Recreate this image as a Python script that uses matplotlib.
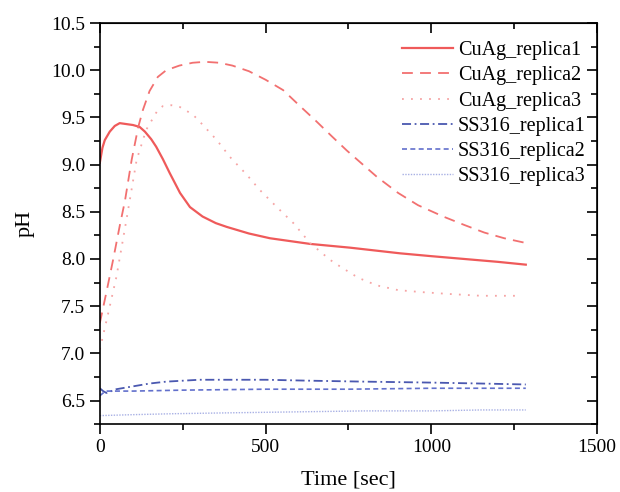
#!/usr/bin/env python3

"""pH over time for CuAg and SS316 replicas."""

import matplotlib.pyplot as plt
from matplotlib.ticker import MultipleLocator

plt.rcParams['font.family'] = ['Liberation Serif', 'DejaVu Serif']

# CuAg replicas
t_cu1 = [0, 8, 15, 30, 45, 60, 80, 100, 120, 136, 155, 170, 190, 211, 242, 272, 310, 350,
         383, 450, 513, 634, 755, 906, 1000, 1100, 1200, 1285]
ph_cu1 = [9.02, 9.18, 9.26, 9.35, 9.41, 9.44, 9.43, 9.42, 9.4, 9.35, 9.27, 9.19, 9.06, 8.91,
          8.7, 8.55, 8.45, 8.38, 8.34, 8.27, 8.22, 8.16, 8.12, 8.06, 8.03, 8.0, 7.97, 7.94]

t_cu2 = [0, 20, 40, 60, 76, 96, 116, 130, 150, 175, 200, 240, 280, 317, 360, 400, 450,
         500, 553, 604, 650, 700, 745, 836, 900, 960, 1036, 1100, 1160, 1220, 1285]
ph_cu2 = [7.32, 7.65, 7.99, 8.35, 8.62, 9.05, 9.4, 9.58, 9.78, 9.93, 10.0, 10.05, 10.08,
          10.09, 10.08, 10.05, 9.99, 9.9, 9.79, 9.62, 9.47, 9.3, 9.15, 8.87, 8.7, 8.57,
          8.45, 8.36, 8.28, 8.22, 8.17]

t_cu3 = [0, 25, 50, 80, 111, 140, 175, 190, 216, 242, 281, 311, 353, 393, 444, 483, 534,
         584, 634, 695, 725, 780, 836, 900, 967, 1050, 1150, 1269]
ph_cu3 = [7.04, 7.42, 7.81, 8.41, 9.05, 9.37, 9.58, 9.62, 9.63, 9.61, 9.53, 9.42, 9.26,
          9.08, 8.89, 8.73, 8.55, 8.38, 8.17, 7.99, 7.92, 7.8, 7.72, 7.67, 7.65, 7.63,
          7.61, 7.61]

# SS316 replicas
t_ss1 = [0, 10, 20, 35, 50, 100, 150, 200, 250, 300, 400, 500, 634, 800, 1000, 1150, 1285]
ph_ss1 = [6.63, 6.6, 6.58, 6.6, 6.62, 6.65, 6.68, 6.7, 6.71, 6.72, 6.72, 6.72, 6.71,
          6.7, 6.69, 6.68, 6.67]

t_ss2 = [0, 10, 20, 40, 100, 250, 500, 750, 1000, 1285]
ph_ss2 = [6.55, 6.58, 6.6, 6.6, 6.6, 6.61, 6.62, 6.62, 6.63, 6.63]

t_ss3 = [0, 100, 220, 400, 600, 800, 1000, 1150, 1285]
ph_ss3 = [6.34, 6.35, 6.36, 6.37, 6.38, 6.39, 6.39, 6.40, 6.40]

fig, ax = plt.subplots(figsize=(6.2, 4.92), dpi=100)
fig.subplots_adjust(left=0.161, right=0.963, top=0.953, bottom=0.138)

ax.plot(t_cu1, ph_cu1, color='#ef5a5a', lw=1.6, ls='-', label='CuAg_replica1')
ax.plot(t_cu2, ph_cu2, color='#f27070', lw=1.3, ls=(0, (6, 4)), label='CuAg_replica2')
ax.plot(t_cu3, ph_cu3, color='#f6a4a4', lw=1.3, ls=(0, (1, 4)), label='CuAg_replica3')
ax.plot(t_ss1, ph_ss1, color='#4a58b0', lw=1.3, ls=(0, (5, 2, 1, 2)), label='SS316_replica1')
ax.plot(t_ss2, ph_ss2, color='#6270cc', lw=1.2, ls=(0, (3, 2)), label='SS316_replica2')
ax.plot(t_ss3, ph_ss3, color='#a8b0e4', lw=1.0, ls=(0, (1, 1)), label='SS316_replica3')

ax.set_xlim(0, 1500)
ax.set_ylim(6.25, 10.5)
ax.xaxis.set_major_locator(MultipleLocator(500))
ax.xaxis.set_minor_locator(MultipleLocator(250))
ax.yaxis.set_major_locator(MultipleLocator(0.5))
ax.yaxis.set_minor_locator(MultipleLocator(0.25))
ax.tick_params(which='both', direction='out', width=1.2, labelsize=14)
ax.tick_params(which='major', length=7)
ax.tick_params(which='minor', length=4)
for s in ax.spines.values():
    s.set_linewidth(1.2)

# mirrored ticks on top and right, pointing inward
top = ax.secondary_xaxis('top')
top.xaxis.set_major_locator(MultipleLocator(500))
top.xaxis.set_minor_locator(MultipleLocator(250))
top.tick_params(which='both', direction='in', width=1.2, labeltop=False)
top.tick_params(which='major', length=7)
top.tick_params(which='minor', length=4)
right = ax.secondary_yaxis('right')
right.yaxis.set_major_locator(MultipleLocator(0.5))
right.yaxis.set_minor_locator(MultipleLocator(0.25))
right.tick_params(which='both', direction='in', width=1.2, labelright=False)
right.tick_params(which='major', length=7)
right.tick_params(which='minor', length=4)

ax.set_xlabel('Time [sec]', fontsize=16, labelpad=11)
ax.set_ylabel('pH', fontsize=16, labelpad=12)

ax.legend(loc='upper right', bbox_to_anchor=(1.005, 0.99), frameon=False, fontsize=14.5,
          labelspacing=0.3, handlelength=2.5, handletextpad=0.25, borderaxespad=0.3)

plt.savefig('out.png')
